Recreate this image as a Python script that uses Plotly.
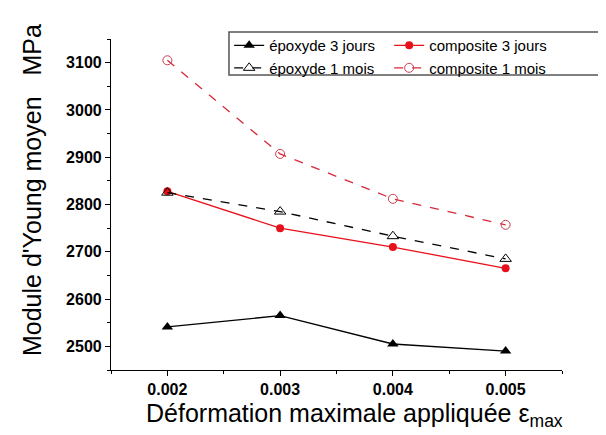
import plotly.graph_objects as go

strain = [0.002, 0.003, 0.004, 0.005]
epoxy_3j = [2541, 2565, 2505, 2490]
composite_3j = [2828, 2750, 2710, 2665]
epoxy_1m = [2825, 2785, 2733, 2685]
composite_1m = [3105, 2907, 2812, 2757]

x_ticks = [0.002, 0.003, 0.004, 0.005]
x_ticklabels = ["0.002", "0.003", "0.004", "0.005"]
y_ticks = [2500, 2600, 2700, 2800, 2900, 3000, 3100]

fig = go.Figure()
fig.add_trace(go.Scatter(x=strain, y=epoxy_3j, name="époxyde 3 jours", mode="lines+markers",
                         line=dict(color="black", width=1.3),
                         marker=dict(symbol="triangle-up", size=10, color="black")))
fig.add_trace(go.Scatter(x=strain, y=composite_3j, name="composite 3 jours", mode="lines+markers",
                         line=dict(color="#e8101a", width=1.3),
                         marker=dict(symbol="circle", size=8, color="#e8101a")))
fig.add_trace(go.Scatter(x=strain, y=epoxy_1m, name="époxyde 1 mois", mode="lines+markers",
                         line=dict(color="black", width=1.3, dash="dash"),
                         marker=dict(symbol="triangle-up-open", size=10, color="black", line=dict(width=1))))
fig.add_trace(go.Scatter(x=strain, y=composite_1m, name="composite 1 mois", mode="lines+markers",
                         line=dict(color="#d8283a", width=1.3, dash="dash"),
                         marker=dict(symbol="circle-open", size=9, color="#c8404e", line=dict(width=1))))

fig.update_layout(
    width=606, height=435,
    margin=dict(l=103, r=52, t=31, b=73),
    paper_bgcolor="white", plot_bgcolor="white",
    font=dict(family="Liberation Sans, Arial, sans-serif", color="black"),
    showlegend=True,
    legend=dict(orientation="h", x=0.262, y=1.03, xanchor="left", yanchor="top",
                borderwidth=0, bgcolor="rgba(0,0,0,0)",
                font=dict(size=15), entrywidth=115, entrywidthmode="pixels", tracegroupgap=0),
    xaxis=dict(range=[0.0015, 0.0055], tickvals=x_ticks, ticktext=x_ticklabels,
               showgrid=False, zeroline=False, showline=True, linecolor="black", linewidth=1.2,
               ticks="outside", ticklen=5, tickcolor="black",
               tickfont=dict(size=16, family="Liberation Sans, Arial", weight="bold"),
               minor=dict(tickvals=[0.0015, 0.0025, 0.0035, 0.0045, 0.0055], ticks="outside", ticklen=3, tickcolor="black")),
    yaxis=dict(range=[2450, 3150], tickvals=y_ticks,
               showgrid=False, zeroline=False, showline=True, linecolor="black", linewidth=1.2,
               ticks="outside", ticklen=5, tickcolor="black",
               tickfont=dict(size=16, family="Liberation Sans, Arial", weight="bold"),
               minor=dict(dtick=50, ticks="outside", ticklen=3, tickcolor="black")),
    shapes=[
        dict(type="rect", xref="paper", yref="paper", x0=0.2616, x1=1.109, y0=0.891, y1=1.021,
             line=dict(color="#555555", width=1.5), fillcolor="rgba(0,0,0,0)", layer="below"),
    ],
    annotations=[
        dict(text="Module d'Young moyen   MPa", textangle=-90, showarrow=False,
             xref="paper", yref="paper", x=-0.175, y=0.544, xanchor="center", yanchor="middle",
             font=dict(size=25)),
        dict(text="Déformation maximale appliquée ε<sub>max</sub>", showarrow=False,
             xref="paper", yref="paper", x=0.54, y=-0.135, xanchor="center", yanchor="middle",
             font=dict(size=25)),
    ],
)

fig.write_html("out.html")
